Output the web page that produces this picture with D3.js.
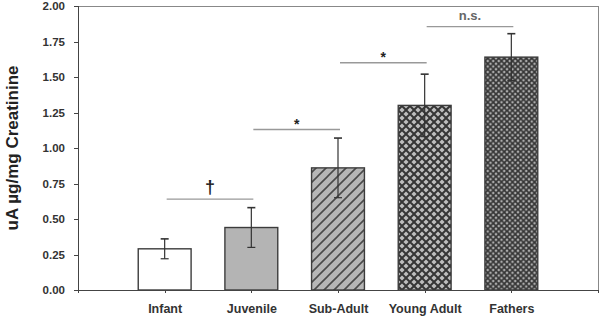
<!DOCTYPE html>
<html>
  <head>
    <meta charset="utf-8">
    <style>
      body { margin: 0; background: #fff; }
      .axis text { font: bold 11.5px Arial, "Liberation Sans", sans-serif; fill: #333; }
      .axis path, .axis line { stroke: #444; shape-rendering: crispEdges; }
    </style>
    <script src="https://cdn.jsdelivr.net/npm/d3@7/dist/d3.min.js"></script>
  </head>
  <body>
    <svg class="chart" width="600" height="317"></svg>
    <script>
      const groups = ["Infant", "Juvenile", "Sub-Adult", "Young Adult", "Fathers"];
      const means = [0.29, 0.44, 0.86, 1.30, 1.64];
      const errors = [0.07, 0.14, 0.21, 0.22, 0.165];
      const yTicks = [0, 0.25, 0.5, 0.75, 1.0, 1.25, 1.5, 1.75, 2.0];
      // significance brackets: from group, to group, level, label
      const sigFrom = ["Infant", "Juvenile", "Sub-Adult", "Young Adult"];
      const sigTo = ["Juvenile", "Sub-Adult", "Young Adult", "Fathers"];
      const sigLevel = [0.64, 1.13, 1.60, 1.855];
      const sigLabel = ["†", "*", "*", "n.s."];

      const margin = {top: 6, right: 2, bottom: 27, left: 78},
          width = 600 - margin.left - margin.right,
          height = 317 - margin.top - margin.bottom;

      const svg = d3.select(".chart");
      const defs = svg.append("defs");

      // fills
      defs.append("pattern").attr("id", "hatch")
        .attr("patternUnits", "userSpaceOnUse")
        .attr("width", 10).attr("height", 10)
        .call(p => {
          p.append("rect").attr("width", 10).attr("height", 10).attr("fill", "#b6b6b6");
          p.append("path").attr("d", "M-2,2 l4,-4 M0,10 l10,-10 M8,12 l4,-4")
            .attr("stroke", "#4a4a4a").attr("stroke-width", 1.6);
        });

      function cross(id, s, bg, sw) {
        defs.append("pattern").attr("id", id)
          .attr("patternUnits", "userSpaceOnUse")
          .attr("width", s).attr("height", s)
          .call(p => {
            p.append("rect").attr("width", s).attr("height", s).attr("fill", bg);
            p.append("path")
              .attr("d", `M0,0 L${s},${s} M0,${s} L${s},0`)
              .attr("stroke", "#353535").attr("stroke-width", sw);
          });
      }
      cross("cross1", 8, "#bdbdbd", 2);
      cross("cross2", 5.5, "#b0b0b0", 1.7);

      const fills = ["#ffffff", "#b4b4b4", "url(#hatch)", "url(#cross1)", "url(#cross2)"];

      const g = svg.append("g")
        .attr("transform", `translate(${margin.left}, ${margin.top})`);

      const x = d3.scalePoint().domain(groups).range([0, width]).padding(1);
      const y = d3.scaleLinear().domain([0, 2]).range([height, 0]);
      const barW = x.step() * 0.61;

      // frame
      g.append("rect")
        .attr("width", width).attr("height", height)
        .attr("fill", "none").attr("stroke", "#888").attr("stroke-width", 1)
        .attr("shape-rendering", "crispEdges");

      g.selectAll(".bar").data(groups).enter().append("rect")
        .attr("class", "bar")
        .attr("x", d => x(d) - barW / 2)
        .attr("y", (d, i) => y(means[i]))
        .attr("width", barW)
        .attr("height", (d, i) => y(0) - y(means[i]))
        .attr("fill", (d, i) => fills[i])
        .attr("stroke", "#3c3c3c")
        .attr("stroke-width", 1.4);

      // error bars
      const eb = g.selectAll(".err").data(groups).enter().append("g")
        .attr("class", "err")
        .attr("stroke", "#333").attr("stroke-width", 1.2);
      eb.append("line")
        .attr("x1", d => x(d)).attr("x2", d => x(d))
        .attr("y1", (d, i) => y(means[i] + errors[i]))
        .attr("y2", (d, i) => y(means[i] - errors[i]));
      eb.append("line")
        .attr("x1", d => x(d) - 4).attr("x2", d => x(d) + 4)
        .attr("y1", (d, i) => y(means[i] + errors[i]))
        .attr("y2", (d, i) => y(means[i] + errors[i]))
        .attr("stroke-width", 1.6);
      eb.append("line")
        .attr("x1", d => x(d) - 4).attr("x2", d => x(d) + 4)
        .attr("y1", (d, i) => y(means[i] - errors[i]))
        .attr("y2", (d, i) => y(means[i] - errors[i]));

      // significance marks
      const sg = g.selectAll(".sig").data(sigLabel).enter().append("g").attr("class", "sig");
      sg.append("line")
        .attr("x1", (d, i) => x(sigFrom[i]) + 2)
        .attr("x2", (d, i) => x(sigTo[i]) + 2)
        .attr("y1", (d, i) => y(sigLevel[i]))
        .attr("y2", (d, i) => y(sigLevel[i]))
        .attr("stroke", "#999").attr("stroke-width", 1.4);
      sg.append("text")
        .attr("x", (d, i) => (x(sigFrom[i]) + x(sigTo[i])) / 2 + 2)
        .attr("y", (d, i) => y(sigLevel[i]) - (d === "*" ? 1 : d === "†" ? 6 : 7))
        .attr("text-anchor", "middle")
        .attr("font-family", "Arial, 'Liberation Sans', sans-serif")
        .attr("font-size", d => d === "†" ? 18 : d === "*" ? 14 : 13)
        .attr("font-weight", "bold")
        .attr("fill", d => d === "n.s." ? "#666" : "#222")
        .text(d => d);

      // axes
      const yAxis = d3.axisLeft(y).tickValues(yTicks).tickSize(4).tickPadding(9)
        .tickFormat(d3.format(".2f"));
      g.append("g").attr("class", "y axis").call(yAxis)
        .call(a => a.select(".domain").attr("stroke", "#444").attr("stroke-width", 1.5));

      const xAxis = d3.axisBottom(x).tickSize(3).tickPadding(11);
      g.append("g").attr("class", "x axis")
        .attr("transform", `translate(0, ${height})`)
        .call(xAxis)
        .call(a => a.select(".domain").attr("stroke", "#444").attr("stroke-width", 1.5))
        .call(a => a.selectAll("text").style("font-size", "12.5px"));

      g.append("text")
        .attr("transform", "rotate(-90)")
        .attr("x", -height / 2)
        .attr("y", -margin.left + 18)
        .attr("text-anchor", "middle")
        .attr("font-family", "Arial, 'Liberation Sans', sans-serif")
        .attr("font-weight", "bold")
        .attr("font-size", 17)
        .attr("fill", "#222")
        .text("uA µg/mg Creatinine");
    </script>
  </body>
</html>
